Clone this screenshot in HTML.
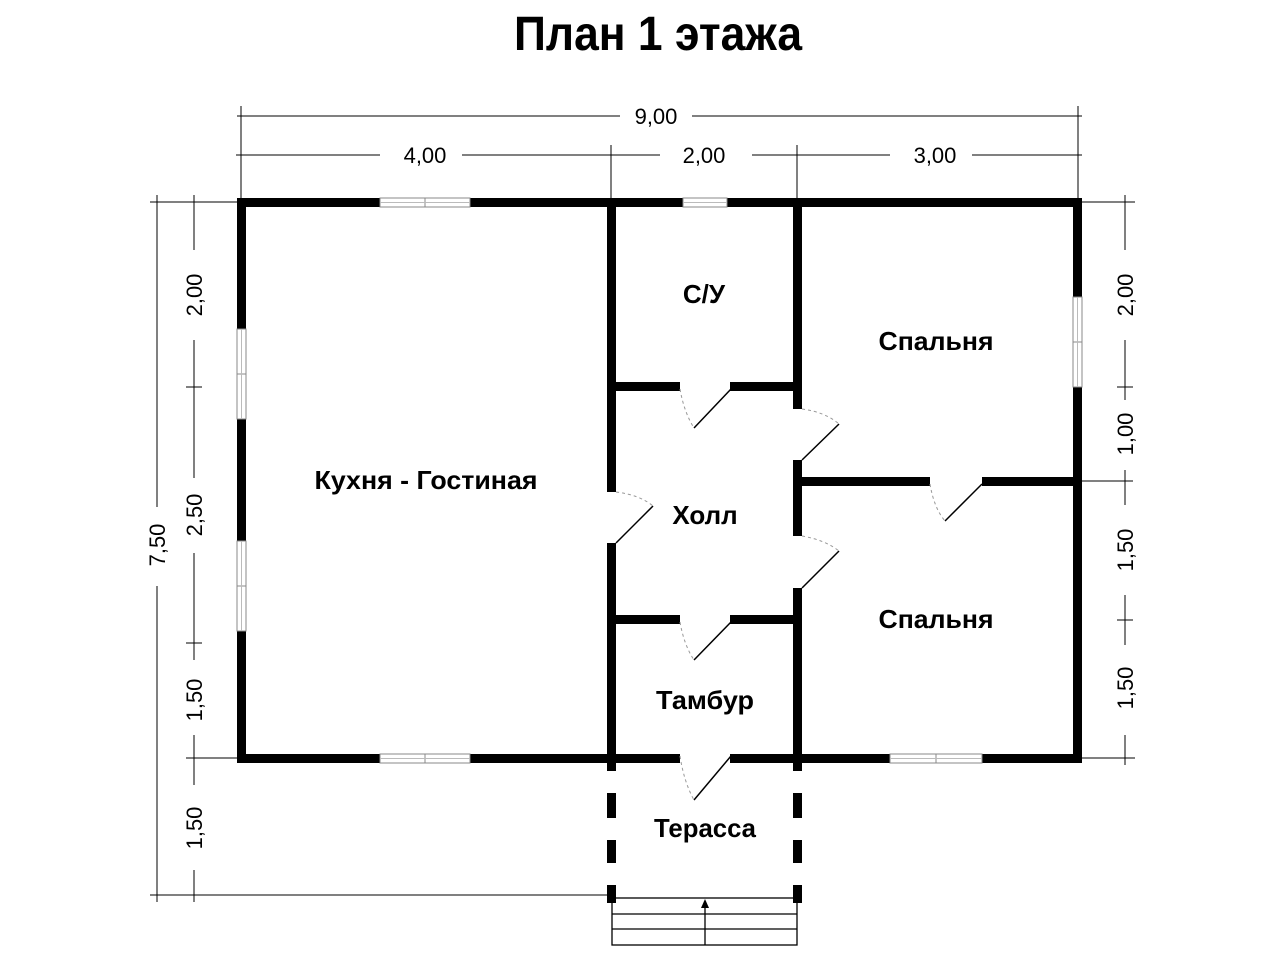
<!DOCTYPE html>
<html><head><meta charset="utf-8"><style>
html,body{margin:0;padding:0;background:#fff;}
svg{display:block;}
text{font-family:"Liberation Sans","DejaVu Sans",sans-serif;fill:#000;}
</style></head><body>
<svg width="1280" height="960" viewBox="0 0 1280 960" xmlns="http://www.w3.org/2000/svg">
<rect width="1280" height="960" fill="#fff"/>
<text x="658" y="50" font-size="48" font-weight="bold" text-anchor="middle" textLength="288" lengthAdjust="spacingAndGlyphs">План 1 этажа</text>

<g stroke="#000" stroke-width="1" fill="none">
  <line x1="237" y1="116" x2="1082" y2="116"/>
  <line x1="241" y1="106" x2="241" y2="202"/>
  <line x1="1078" y1="106" x2="1078" y2="202"/>
  <line x1="611" y1="145" x2="611" y2="202"/>
  <line x1="797" y1="145" x2="797" y2="202"/>
  <line x1="236" y1="155" x2="1082" y2="155"/>
  <line x1="150" y1="202" x2="241" y2="202"/>
  <line x1="157" y1="195" x2="157" y2="902"/>
  <line x1="194" y1="195" x2="194" y2="902"/>
  <line x1="186" y1="387" x2="202" y2="387"/>
  <line x1="186" y1="643" x2="202" y2="643"/>
  <line x1="186" y1="758" x2="241" y2="758"/>
  <line x1="150" y1="895" x2="612" y2="895"/>
  <line x1="1078" y1="202" x2="1135" y2="202"/>
  <line x1="1125" y1="195" x2="1125" y2="765"/>
  <line x1="1117" y1="387" x2="1133" y2="387"/>
  <line x1="1078" y1="481" x2="1133" y2="481"/>
  <line x1="1117" y1="620" x2="1133" y2="620"/>
  <line x1="1078" y1="758" x2="1135" y2="758"/>
</g>
<g fill="#fff">
  <rect x="620" y="104" width="72" height="24"/>
  <rect x="380" y="143" width="82" height="24"/>
  <rect x="660" y="143" width="92" height="24"/>
  <rect x="890" y="143" width="82" height="24"/>
  <rect x="145" y="507" width="24" height="79"/>
  <rect x="182" y="250" width="24" height="90"/>
  <rect x="182" y="478" width="24" height="75"/>
  <rect x="182" y="660" width="24" height="75"/>
  <rect x="182" y="785" width="24" height="85"/>
  <rect x="1113" y="250" width="24" height="90"/>
  <rect x="1113" y="400" width="24" height="70"/>
  <rect x="1113" y="505" width="24" height="90"/>
  <rect x="1113" y="645" width="24" height="90"/>
</g>
<g font-size="22">
  <text x="656" y="124" text-anchor="middle">9,00</text>
  <text x="425" y="163" text-anchor="middle">4,00</text>
  <text x="704" y="163" text-anchor="middle">2,00</text>
  <text x="935" y="163" text-anchor="middle">3,00</text>
  <text transform="translate(165,545) rotate(-90)" text-anchor="middle">7,50</text>
  <text transform="translate(202,295) rotate(-90)" text-anchor="middle">2,00</text>
  <text transform="translate(202,515) rotate(-90)" text-anchor="middle">2,50</text>
  <text transform="translate(202,700) rotate(-90)" text-anchor="middle">1,50</text>
  <text transform="translate(202,828) rotate(-90)" text-anchor="middle">1,50</text>
  <text transform="translate(1133,295) rotate(-90)" text-anchor="middle">2,00</text>
  <text transform="translate(1133,434) rotate(-90)" text-anchor="middle">1,00</text>
  <text transform="translate(1133,550) rotate(-90)" text-anchor="middle">1,50</text>
  <text transform="translate(1133,688) rotate(-90)" text-anchor="middle">1,50</text>
</g>

<g fill="#000">
  <rect x="237" y="198" width="845" height="9"/>
  <rect x="237" y="754" width="845" height="9"/>
  <rect x="237" y="198" width="9" height="565"/>
  <rect x="1073" y="198" width="9" height="565"/>
  <rect x="607" y="198" width="9" height="294"/>
  <rect x="607" y="543" width="9" height="220"/>
  <rect x="793" y="198" width="9" height="211"/>
  <rect x="793" y="460" width="9" height="76"/>
  <rect x="793" y="588" width="9" height="175"/>
  <rect x="611" y="382" width="69" height="9"/>
  <rect x="730" y="382" width="68" height="9"/>
  <rect x="797" y="477" width="133" height="9"/>
  <rect x="982" y="477" width="96" height="9"/>
  <rect x="611" y="615" width="69" height="9"/>
  <rect x="730" y="615" width="68" height="9"/>
  <rect x="607" y="763" width="9" height="8"/>
  <rect x="607" y="793" width="9" height="25"/>
  <rect x="607" y="840" width="9" height="23"/>
  <rect x="607" y="885" width="9" height="18"/>
  <rect x="793" y="763" width="9" height="8"/>
  <rect x="793" y="793" width="9" height="25"/>
  <rect x="793" y="840" width="9" height="23"/>
  <rect x="793" y="885" width="9" height="18"/>
</g>
<rect x="680" y="753" width="50" height="11" fill="#fff"/>

<g fill="#fff" stroke="#888" stroke-width="1">
  <rect x="380" y="198" width="45" height="9"/><rect x="425" y="198" width="45" height="9"/>
  <rect x="683" y="198" width="44" height="9"/>
  <rect x="380" y="754" width="45" height="9"/><rect x="425" y="754" width="45" height="9"/>
  <rect x="890" y="754" width="46" height="9"/><rect x="936" y="754" width="46" height="9"/>
  <rect x="237" y="329" width="9" height="45"/><rect x="237" y="374" width="9" height="45"/>
  <rect x="237" y="541" width="9" height="45"/><rect x="237" y="586" width="9" height="45"/>
  <rect x="1073" y="297" width="9" height="45"/><rect x="1073" y="342" width="9" height="45"/>
</g>
<g stroke="#bbb" stroke-width="1">
  <line x1="380" y1="202.5" x2="470" y2="202.5"/>
  <line x1="683" y1="202.5" x2="727" y2="202.5"/>
  <line x1="380" y1="758.5" x2="470" y2="758.5"/>
  <line x1="890" y1="758.5" x2="982" y2="758.5"/>
  <line x1="241.5" y1="329" x2="241.5" y2="419"/>
  <line x1="241.5" y1="541" x2="241.5" y2="631"/>
  <line x1="1077.5" y1="297" x2="1077.5" y2="387"/>
</g>

<g stroke="#000" stroke-width="1.5">
  <line x1="731" y1="389" x2="694" y2="428"/>
  <line x1="731" y1="622" x2="694" y2="660"/>
  <line x1="731" y1="756" x2="694" y2="800"/>
  <line x1="616" y1="543" x2="653" y2="506"/>
  <line x1="802" y1="460" x2="839" y2="424"/>
  <line x1="802" y1="588" x2="839" y2="551"/>
  <line x1="982" y1="484" x2="945" y2="521"/>
</g>
<g stroke="#999" stroke-width="1" stroke-dasharray="3,3" fill="none">
  <path d="M680,389 Q684,412 694,428"/>
  <path d="M680,622 Q684,645 694,660"/>
  <path d="M680,756 Q684,782 694,800"/>
  <path d="M616,492 Q640,495 653,506"/>
  <path d="M802,409 Q825,412 839,424"/>
  <path d="M802,536 Q825,540 839,551"/>
  <path d="M930,484 Q934,508 945,521"/>
</g>

<g stroke="#000" stroke-width="1.3" fill="none">
  <rect x="612" y="898" width="185" height="47"/>
  <line x1="612" y1="914" x2="797" y2="914"/>
  <line x1="612" y1="929" x2="797" y2="929"/>
  <line x1="705" y1="945" x2="705" y2="905"/>
</g>
<polygon points="705,899 701,908 709,908" fill="#000"/>

<g font-size="26" font-weight="bold" text-anchor="middle">
  <text x="426" y="489" textLength="223" lengthAdjust="spacingAndGlyphs">Кухня - Гостиная</text>
  <text x="704" y="303">С/У</text>
  <text x="936" y="350" textLength="115" lengthAdjust="spacingAndGlyphs">Спальня</text>
  <text x="705" y="524">Холл</text>
  <text x="936" y="628" textLength="115" lengthAdjust="spacingAndGlyphs">Спальня</text>
  <text x="705" y="709" textLength="98" lengthAdjust="spacingAndGlyphs">Тамбур</text>
  <text x="705" y="837" textLength="102" lengthAdjust="spacingAndGlyphs">Терасса</text>
</g>
</svg>
</body></html>
